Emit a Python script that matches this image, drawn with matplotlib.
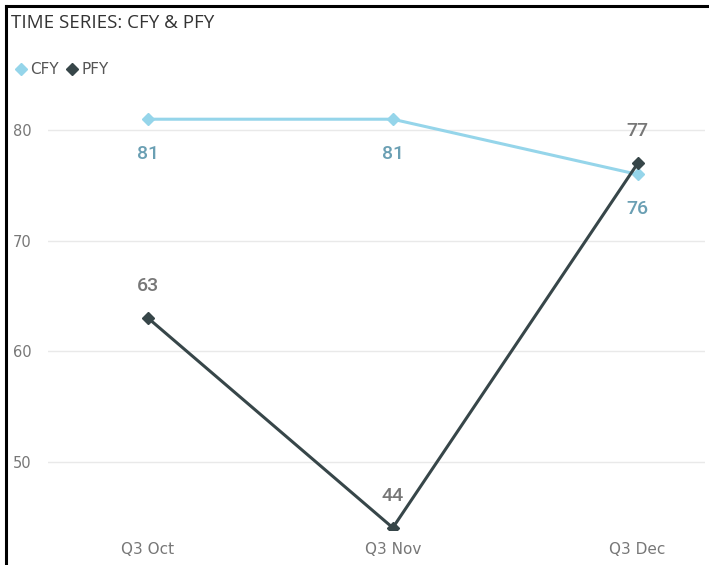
import matplotlib.pyplot as plt
from matplotlib.lines import Line2D

# data
months = ['Q3 Oct', 'Q3 Nov', 'Q3 Dec']
cfy = [81, 81, 76]
pfy = [63, 44, 77]
yticks = [50, 60, 70, 80]

cfy_color = '#95d5ea'
pfy_color = '#374649'
cfy_label_color = '#6a9fb3'
pfy_label_color = '#777777'

fig = plt.figure(figsize=(7.09, 5.65), dpi=100)
ax = fig.add_axes([0.0677, 0.062, 0.926, 0.77])

x = list(range(len(months)))
ax.plot(x, cfy, color=cfy_color, lw=2.2, marker='D', markersize=6.5, zorder=3)
ax.plot(x, pfy, color=pfy_color, lw=2.2, marker='D', markersize=6.5, zorder=4)

for i, v in enumerate(cfy):
    ax.annotate(str(v), (i, v), xytext=(0, -25), textcoords='offset points',
                ha='center', va='center', fontsize=14, fontweight='medium',
                color=cfy_label_color, family='Roboto')
for i, v in enumerate(pfy):
    ax.annotate(str(v), (i, v), xytext=(0, 23), textcoords='offset points',
                ha='center', va='center', fontsize=14, fontweight='medium',
                color=pfy_label_color, family='Roboto')

ax.set_xlim(-0.408, 2.273)
ax.set_ylim(43.8, 83.2)
ax.set_xticks(x)
ax.set_xticklabels(months)
ax.set_yticks(yticks)
ax.tick_params(length=0, labelcolor='#777777')
ax.tick_params(axis='y', pad=12, labelsize=10.5)
ax.tick_params(axis='x', pad=9, labelsize=11)
ax.grid(axis='y', color='#e9e9e9', lw=1)
ax.set_axisbelow(True)
for s in ax.spines.values():
    s.set_visible(False)

fig.text(11 / 709, 1 - 23 / 565, 'TIME SERIES: CFY & PFY', fontsize=13.5,
         color='#333333', va='center', ha='left', family='Open Sans')

handles = [Line2D([], [], ls='none', marker='D', markersize=6.5, color=cfy_color),
           Line2D([], [], ls='none', marker='D', markersize=6.5, color=pfy_color)]
fig.legend(handles, ['CFY', 'PFY'], loc='center left',
           bbox_to_anchor=(-2 / 709, 1 - 70 / 565), ncol=2, frameon=False,
           fontsize=11, handletextpad=0.0, columnspacing=0.3,
           handlelength=1.2, labelcolor='#555555')

# frame along the top and left edges
fig.add_artist(Line2D([6 / 709, 6 / 709], [0, 1 - 6 / 565], color='black',
                      lw=2.2, transform=fig.transFigure))
fig.add_artist(Line2D([6 / 709, 1], [1 - 6 / 565, 1 - 6 / 565], color='black',
                      lw=2.2, transform=fig.transFigure))

fig.savefig('out.png', dpi=100)
